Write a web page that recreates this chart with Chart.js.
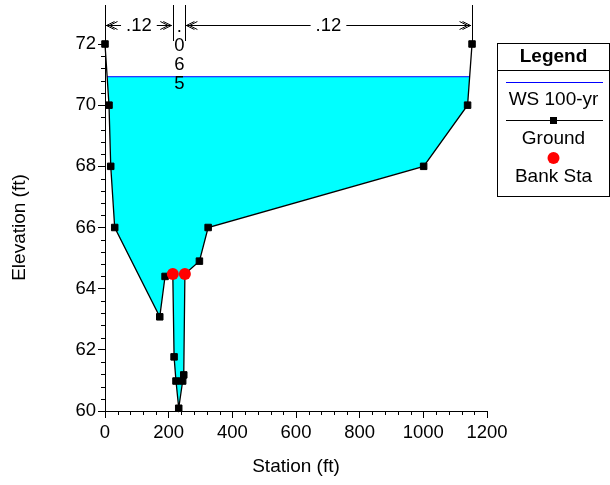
<!DOCTYPE html>
<html><head><meta charset="utf-8">
<script src="https://cdn.jsdelivr.net/npm/chart.js@4"></script>
<style>html,body{margin:0;padding:0;background:#fff;overflow:hidden}canvas{display:block}</style>
</head><body>
<canvas id="c" width="610" height="485"></canvas>
<script>
// ---- data ----
const groundStation = [0, 12.6, 18, 30.5, 172, 188.7, 213, 217, 223, 231.6, 244, 247.4, 251, 296.6, 324, 1001, 1139, 1153];
const groundElev    = [72, 70, 68, 66, 63.08, 64.4, 64.48, 61.77, 60.98, 60.09, 60.98, 61.18, 64.48, 64.9, 66, 68, 70, 72];
const bankStation = [213, 251];
const bankElev    = [64.48, 64.48];
const wsStation = [6.7, 1145.5];
const wsElev    = [70.93, 70.93];
const xTicks = [0, 200, 400, 600, 800, 1000, 1200];
const yTicks = [60, 62, 64, 66, 68, 70, 72];
const nStations = [0, 213, 251, 1153];
const nValues = ['.12', '.065', '.12'];
const legendTitle = 'Legend';
const legendLabels = ['WS 100-yr', 'Ground', 'Bank Sta'];
const xTitle = 'Station (ft)';
const yTitle = 'Elevation (ft)';

const FAM = "'Liberation Sans', Arial, sans-serif";
const tickFont = {family: FAM, size: 18.5};
const titleFont = {family: FAM, size: 19};

const toPts = (xs, ys) => xs.map((x, i) => ({x: x, y: ys[i]}));

const minorTicks = {
  id: 'minorTicks',
  afterDraw(chart) {
    const ctx = chart.ctx, xs = chart.scales.x, ys = chart.scales.y, a = chart.chartArea;
    ctx.save();
    ctx.strokeStyle = '#000'; ctx.lineWidth = 1;
    ctx.beginPath();
    for (let v = 0; v <= 1200; v += 40) {
      if (v % 200 === 0) continue;
      const p = Math.round(xs.getPixelForValue(v)) + 0.5;
      ctx.moveTo(p, a.bottom); ctx.lineTo(p, a.bottom + 4);
    }
    for (let k = 0; k <= 30; k++) {
      if (k % 5 === 0) continue;
      const v = 60 + k * 0.4;
      const p = Math.round(ys.getPixelForValue(v)) + 0.5;
      ctx.moveTo(a.left - 4, p); ctx.lineTo(a.left, p);
    }
    ctx.stroke();
    ctx.restore();
  }
};

function arrowHead(ctx, x, y, dir) {
  for (const off of [0, 3]) {
    const tx = x - dir * off;
    ctx.beginPath();
    ctx.moveTo(tx - dir * 8, y - 4);
    ctx.lineTo(tx, y);
    ctx.lineTo(tx - dir * 8, y + 4);
    ctx.stroke();
  }
}

const nAnnot = {
  id: 'nAnnot',
  afterDraw(chart) {
    const ctx = chart.ctx, xs = chart.scales.x, a = chart.chartArea;
    const px = nStations.map(s => xs.getPixelForValue(s));
    ctx.save();
    ctx.strokeStyle = '#000'; ctx.fillStyle = '#000'; ctx.lineWidth = 1;
    px.forEach((p, i) => {
      const x = Math.round(p) + 0.5;
      const bottom = (i === 0 || i === px.length - 1) ? a.top : 41;
      ctx.beginPath(); ctx.moveTo(x, 5); ctx.lineTo(x, bottom); ctx.stroke();
    });
    ctx.font = '18.5px ' + FAM;
    ctx.textAlign = 'center'; ctx.textBaseline = 'middle';
    const ay = 25.5;
    for (let i = 0; i < nValues.length; i++) {
      const x0 = px[i], x1 = px[i + 1], mid = (x0 + x1) / 2;
      const t = nValues[i];
      const tw = ctx.measureText(t).width;
      if (x1 - x0 > tw + 30) {
        ctx.beginPath();
        ctx.moveTo(x0 + 1, ay); ctx.lineTo(mid - tw / 2 - 5, ay);
        ctx.moveTo(mid + tw / 2 + 5, ay); ctx.lineTo(x1 - 1, ay);
        ctx.stroke();
        arrowHead(ctx, x0 + 1.5, ay, -1);
        arrowHead(ctx, x1 - 1.5, ay, 1);
        ctx.fillText(t, mid, 26);
      } else {
        const chars = t.split('');
        chars.forEach((c, k) => ctx.fillText(c, mid + 0.5, 26.5 + k * 19.3));
      }
    }
    ctx.restore();
  }
};

const legendBox = {
  id: 'legendBox',
  afterDraw(chart) {
    const ctx = chart.ctx;
    const L = 497.5, T = 43.5, R = 609.5, B = 196.5, cx = (L + R) / 2;
    ctx.save();
    ctx.strokeStyle = '#000'; ctx.lineWidth = 1;
    ctx.strokeRect(L, T, R - L, B - T);
    ctx.beginPath(); ctx.moveTo(L, 70.5); ctx.lineTo(R, 70.5); ctx.stroke();
    ctx.fillStyle = '#000'; ctx.textAlign = 'center'; ctx.textBaseline = 'middle';
    ctx.font = 'bold 19px ' + FAM;
    ctx.fillText(legendTitle, cx, 57);
    ctx.font = '19px ' + FAM;
    ctx.strokeStyle = '#0000ff';
    ctx.beginPath(); ctx.moveTo(506, 82.5); ctx.lineTo(603, 82.5); ctx.stroke();
    ctx.fillText(legendLabels[0], cx, 100);
    ctx.strokeStyle = '#000';
    ctx.beginPath(); ctx.moveTo(506, 120.5); ctx.lineTo(603, 120.5); ctx.stroke();
    ctx.fillRect(cx - 3.5, 117, 7, 7);
    ctx.fillText(legendLabels[1], cx, 139);
    ctx.fillStyle = '#ff0000';
    ctx.beginPath(); ctx.arc(cx, 158, 6, 0, Math.PI * 2); ctx.fill();
    ctx.fillStyle = '#000';
    ctx.fillText(legendLabels[2], cx, 177);
    ctx.restore();
  }
};

new Chart(document.getElementById('c'), {
  type: 'line',
  data: {
    datasets: [
      {
        label: legendLabels[0], data: toPts(wsStation, wsElev),
        borderColor: '#0000ff', borderWidth: 1, pointRadius: 0,
        fill: {target: 1, above: '#00ffff', below: 'rgba(0,0,0,0)'},
        order: 3, clip: false
      },
      {
        label: legendLabels[1], data: toPts(groundStation, groundElev),
        borderColor: '#000', borderWidth: 1.3,
        pointStyle: 'rect', pointRadius: 4.6, pointBackgroundColor: '#000',
        pointBorderColor: '#000', pointBorderWidth: 1,
        fill: false, order: 2, clip: false
      },
      {
        label: legendLabels[2], data: toPts(bankStation, bankElev),
        showLine: false, pointRadius: 6, pointBackgroundColor: '#ff0000',
        pointBorderColor: '#ff0000', pointBorderWidth: 0,
        fill: false, order: 1, clip: false
      }
    ]
  },
  options: {
    responsive: false, animation: false, devicePixelRatio: 1,
    layout: {padding: {top: 44, right: 123, left: 0, bottom: 0}},
    elements: {line: {tension: 0}},
    plugins: {
      legend: {display: false}, tooltip: {enabled: false},
      filler: {drawTime: 'beforeDatasetsDraw', propagate: false}
    },
    scales: {
      x: {
        type: 'linear', min: 0, max: 1200,
        afterBuildTicks: s => { s.ticks = xTicks.map(v => ({value: v})); },
        ticks: {font: tickFont, color: '#000', padding: 4, maxRotation: 0, autoSkip: false, callback: v => String(v)},
        grid: {drawOnChartArea: false, tickLength: 7, tickColor: '#000', tickWidth: 1},
        border: {display: true, color: '#000', width: 1},
        title: {display: true, text: xTitle, font: titleFont, color: '#000', padding: {top: 0, bottom: 7}},
        afterFit: s => { s.height = 74; }
      },
      y: {
        type: 'linear', min: 60, max: 72,
        afterBuildTicks: s => { s.ticks = yTicks.map(v => ({value: v})); },
        ticks: {font: tickFont, color: '#000', padding: 2, autoSkip: false, callback: v => String(v)},
        grid: {drawOnChartArea: false, tickLength: 7, tickColor: '#000', tickWidth: 1},
        border: {display: true, color: '#000', width: 1},
        title: {display: true, text: yTitle, font: titleFont, color: '#000', padding: {top: 8, bottom: 0}},
        afterFit: s => { s.width = 105; }
      }
    }
  },
  plugins: [minorTicks, nAnnot, legendBox]
});
</script>
</body></html>
